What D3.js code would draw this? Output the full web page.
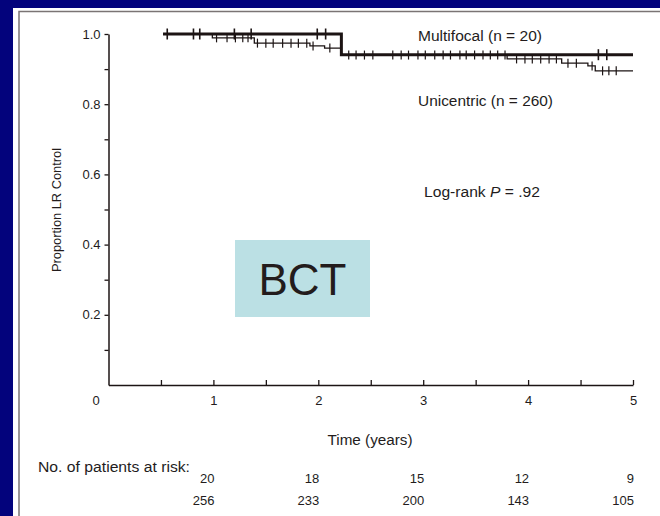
<!DOCTYPE html>
<html>
<head>
<meta charset="utf-8">
<script src="https://cdn.jsdelivr.net/npm/d3@7"></script>
<style>
  html, body { margin: 0; padding: 0; background: #03037c; }
  svg { display: block; }
  text { font-family: "Liberation Sans", Arial, Helvetica, sans-serif; fill: #231c1c; }
</style>
</head>
<body>
<svg id="chart" width="660" height="516"></svg>
<script>
// Local-recurrence control, Kaplan–Meier estimates (years of follow-up)
const timeTicks = [0, 1, 2, 3, 4, 5];
const minorTimeTicks = [0.5, 1, 1.5, 2, 2.5, 3, 3.5, 4, 4.5, 5];
const propTicks = [0.1, 0.2, 0.3, 0.4, 0.5, 0.6, 0.7, 0.8, 0.9, 1.0];
const propLabels = [0.2, 0.4, 0.6, 0.8, 1.0];

// step curves: [time, proportion] at each change
const multifocalSteps = [[0.52, 1.0], [2.22, 0.941]];
const unicentricSteps = [[0.52, 1.0], [0.99, 0.989], [1.39, 0.974], [1.92, 0.966],
  [2.06, 0.960], [2.22, 0.940], [3.80, 0.929], [4.32, 0.917], [4.57, 0.909], [4.64, 0.895]];
const followUpEnd = 5.0;

// censored observations
const multifocalCensored = [0.56, 0.81, 0.87, 1.20, 1.36, 1.99, 2.07, 4.67, 4.75];
const unicentricCensored = [1.03, 1.13, 1.21, 1.28, 1.33, 1.42, 1.50, 1.57, 1.66, 1.74,
  1.81, 1.89, 1.95, 2.11, 2.29, 2.36, 2.44, 2.52, 2.71, 2.79, 2.86, 2.95, 3.02, 3.11,
  3.19, 3.26, 3.35, 3.41, 3.49, 3.57, 3.64, 3.71, 3.78, 3.89, 3.97, 4.04, 4.12, 4.20,
  4.27, 4.38, 4.46, 4.61, 4.71, 4.77, 4.84];

// numbers at risk
const riskTimes = [1, 2, 3, 4, 5];
const riskMultifocal = [20, 18, 15, 12, 9];
const riskUnicentric = [256, 233, 200, 143, 105];

const ink = "#1c1414";
const svg = d3.select("#chart");

// slide panel
svg.append("rect").attr("x", 13).attr("y", 8).attr("width", 660).attr("height", 520).attr("fill", "#ffffff");
svg.append("rect").attr("x", 19).attr("y", 11.5).attr("width", 660).attr("height", 520)
  .attr("fill", "none").attr("stroke", "#7a7474").attr("stroke-width", 1.5);

const x = d3.scaleLinear().domain([0, 5]).range([108.5, 633]);
const y = d3.scaleLinear().domain([0, 1]).range([385, 34]);

// x axis
const xAxis = svg.append("g").attr("transform", `translate(0,${y(0)})`)
  .call(d3.axisBottom(x).tickValues([0].concat(minorTimeTicks)).tickSizeInner(-5).tickSizeOuter(0)
    .tickPadding(11).tickFormat(d => timeTicks.includes(d) ? d3.format("d")(d) : ""));
xAxis.select(".domain").attr("stroke", ink).attr("stroke-width", 1.5);
xAxis.selectAll(".tick line").attr("stroke", ink).attr("stroke-width", 1.3)
  .filter(d => d === 0).remove();
xAxis.selectAll(".tick text").attr("font-size", 13).attr("fill", "#231c1c")
  .attr("font-family", "Liberation Sans, Arial, sans-serif")
  .attr("dx", d => d === 0 ? -13 : 0);

// y axis
const yAxis = svg.append("g").attr("transform", `translate(${x(0)},0)`)
  .call(d3.axisLeft(y).tickValues(propTicks).tickSizeInner(4).tickSizeOuter(0).tickPadding(4)
    .tickFormat(d => propLabels.some(v => Math.abs(v - d) < 1e-9) ? d3.format(".1f")(d) : ""));
yAxis.select(".domain").attr("stroke", ink).attr("stroke-width", 1.5);
yAxis.selectAll(".tick line").attr("stroke", ink).attr("stroke-width", 1.3);
yAxis.selectAll(".tick text").attr("font-size", 13).attr("fill", "#231c1c")
  .attr("font-family", "Liberation Sans, Arial, sans-serif");

// axis titles
svg.append("text").attr("transform", "translate(61,210) rotate(-90)")
  .attr("text-anchor", "middle").attr("font-size", 13).attr("textLength", 124)
  .attr("lengthAdjust", "spacingAndGlyphs").text("Proportion LR Control");
svg.append("text").attr("x", 370).attr("y", 445).attr("text-anchor", "middle")
  .attr("font-size", 14).attr("textLength", 85).attr("lengthAdjust", "spacingAndGlyphs")
  .text("Time (years)");

// survival step curves
const stepLine = d3.line().x(d => x(d[0])).y(d => y(d[1])).curve(d3.curveStepAfter);
function withEnd(steps) {
  return steps.concat([[followUpEnd, steps[steps.length - 1][1]]]);
}
function valueAt(steps, t) {
  let v = steps[0][1];
  for (const s of steps) if (s[0] <= t) v = s[1];
  return v;
}

svg.append("path").datum(withEnd(unicentricSteps)).attr("d", stepLine)
  .attr("fill", "none").attr("stroke", ink).attr("stroke-width", 1.3);
svg.append("path").datum(withEnd(multifocalSteps)).attr("d", stepLine)
  .attr("fill", "none").attr("stroke", ink).attr("stroke-width", 3);

svg.append("g").selectAll("line").data(unicentricCensored).join("line")
  .attr("x1", d => x(d)).attr("x2", d => x(d))
  .attr("y1", d => y(valueAt(unicentricSteps, d)) - 4.5)
  .attr("y2", d => y(valueAt(unicentricSteps, d)) + 4.5)
  .attr("stroke", ink).attr("stroke-width", 1.2);
svg.append("g").selectAll("line").data(multifocalCensored).join("line")
  .attr("x1", d => x(d)).attr("x2", d => x(d))
  .attr("y1", d => y(valueAt(multifocalSteps, d)) - 5.5)
  .attr("y2", d => y(valueAt(multifocalSteps, d)) + 5.5)
  .attr("stroke", ink).attr("stroke-width", 1.6);

// curve labels and test result
svg.append("text").attr("x", 418).attr("y", 41).attr("font-size", 14)
  .attr("textLength", 124).attr("lengthAdjust", "spacingAndGlyphs").text("Multifocal (n = 20)");
svg.append("text").attr("x", 418).attr("y", 106).attr("font-size", 14)
  .attr("textLength", 135).attr("lengthAdjust", "spacingAndGlyphs").text("Unicentric (n = 260)");
const lr = svg.append("text").attr("x", 424).attr("y", 197).attr("font-size", 14)
  .attr("textLength", 116).attr("lengthAdjust", "spacingAndGlyphs");
lr.append("tspan").text("Log-rank ");
lr.append("tspan").attr("font-style", "italic").text("P");
lr.append("tspan").text(" = .92");

// treatment tag
svg.append("rect").attr("x", 235).attr("y", 240).attr("width", 135).attr("height", 77)
  .attr("fill", "#bbe0e4");
svg.append("text").attr("x", 302.5).attr("y", 295).attr("text-anchor", "middle")
  .attr("font-size", 44).attr("fill", "#000").text("BCT");

// numbers at risk
svg.append("text").attr("x", 38).attr("y", 472).attr("font-size", 14)
  .attr("textLength", 152).attr("lengthAdjust", "spacingAndGlyphs").text("No. of patients at risk:");
svg.append("g").selectAll("text").data(riskTimes).join("text")
  .attr("x", d => x(d) + 1).attr("y", 483).attr("text-anchor", "end").attr("font-size", 13)
  .text((d, i) => riskMultifocal[i]);
svg.append("g").selectAll("text").data(riskTimes).join("text")
  .attr("x", d => x(d) + 1).attr("y", 505).attr("text-anchor", "end").attr("font-size", 13)
  .text((d, i) => riskUnicentric[i]);
</script>
</body>
</html>
